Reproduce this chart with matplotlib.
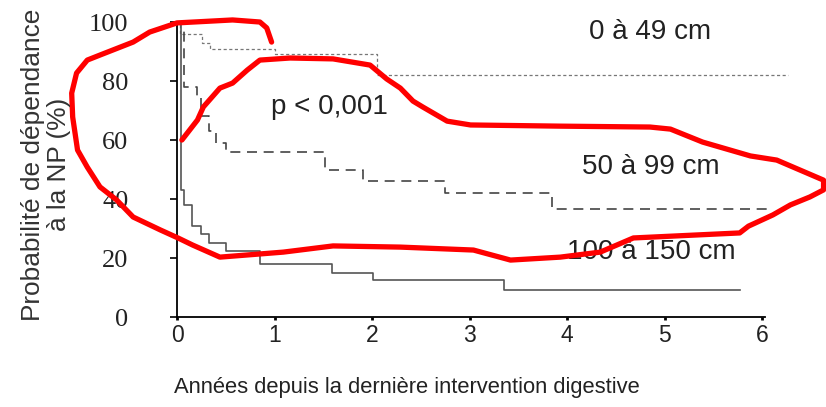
import numpy as np
import matplotlib
matplotlib.use("Agg")
import matplotlib.pyplot as plt

# Courbes de Kaplan-Meier (années, %)
t_0_49 = [0, 0.03, 0.26, 0.34, 1.0, 2.05, 6.27]
s_0_49 = [100, 96, 93, 91, 89, 82, 82]

t_50_99 = [0, 0.07, 0.2, 0.25, 0.33, 0.4, 0.5, 1.52, 1.91, 2.75, 3.85, 6.1]
s_50_99 = [100, 78, 75, 68, 63, 59, 56, 50, 46, 42, 36.5, 36.5]

t_100_150 = [0, 0.04, 0.07, 0.15, 0.25, 0.33, 0.5, 0.85, 1.59, 2.01, 3.35, 5.77]
s_100_150 = [100, 43, 38, 31, 28, 25, 22.5, 18, 15, 12.5, 9, 9]

x_ticks = [0, 1, 2, 3, 4, 5, 6]
y_ticks = [0, 20, 40, 60, 80, 100]

# Trait rouge dessiné à la main (en unités des axes)
rouge_x = [0.05, 0.21, 0.27, 0.44, 0.57, 0.72, 0.85, 1.16, 1.60, 1.98, 2.15, 2.29,
           2.42, 2.52, 2.77, 3.01, 3.93, 4.85, 5.06, 5.39, 5.88, 6.15, 6.63, 6.63,
           6.49, 6.29, 6.11, 5.86, 5.77, 4.68, 4.34, 3.93, 3.42, 3.04, 2.29, 1.60,
           1.09, 0.44, 0.16, 0.01, -0.17, -0.45, -0.62, -0.79, -0.92, -1.02, -1.07,
           -1.08, -1.03, -0.92, -0.79, -0.45, -0.28, 0.00, 0.57, 0.85, 0.92, 0.97]
rouge_y = [60.0, 66.8, 71.2, 77.6, 79.3, 83.7, 87.1, 87.8, 87.5, 85.4, 80.7, 77.6,
           73.2, 71.2, 66.4, 65.1, 64.7, 64.4, 63.7, 59.3, 54.6, 53.2, 46.4, 43.1,
           40.7, 38.0, 34.6, 30.8, 28.5, 26.8, 22.0, 20.3, 19.3, 22.7, 23.7, 24.1,
           22.0, 20.3, 24.4, 26.8, 29.5, 33.9, 39.7, 44.1, 50.8, 56.6, 67.8,
           75.9, 82.7, 87.1, 88.8, 93.2, 96.6, 99.7, 100.7, 100.0, 98.0, 93.2]

fig = plt.figure(figsize=(8.26, 4.07), dpi=100)
ax = fig.add_axes([0.2143, 0.2211, 0.7119, 0.7248])

ax.plot(t_0_49, s_0_49, drawstyle='steps-post', color='#777777', lw=0.9,
        linestyle=(0, (2.5, 2)), clip_on=False)
ax.plot(t_50_99, s_50_99, drawstyle='steps-post', color='#444444', lw=1.2,
        linestyle=(0, (6, 4)), clip_on=False)
ax.plot(t_100_150, s_100_150, drawstyle='steps-post', color='#555555', lw=1.2,
        clip_on=False)

ax.set_xlim(0, 6.03)
ax.set_ylim(0, 100)
ax.set_xticks(x_ticks)
ax.set_yticks(y_ticks)
ax.set_xticklabels([str(v) for v in x_ticks], fontsize=16.5, family='Liberation Sans',
                   color='#222222')
ax.set_yticklabels([str(v) for v in y_ticks], fontsize=19, family='Liberation Serif',
                   color='#222222')
ax.tick_params(axis='y', direction='out', length=5, width=1.2, pad=30)
ax.tick_params(axis='x', direction='out', length=2, width=2, pad=3)

for s in ['top', 'right']:
    ax.spines[s].set_visible(False)
for s in ['left', 'bottom']:
    ax.spines[s].set_linewidth(1.3)
    ax.spines[s].set_color('black')

txt = dict(fontsize=20, family='Liberation Sans', color='#222222', ha='center', va='center')
ax.text(4.85, 96.6, "0 à 49 cm", **txt)
ax.text(4.86, 50.8, "50 à 99 cm", **txt)
ax.text(4.86, 22.0, "100 à 150 cm", **txt)
ax.text(1.56, 71.2, "p < 0,001", **txt)

fig.text(0.4927, 0.049, "Années depuis la dernière intervention digestive",
         fontsize=15.8, family='Liberation Sans', color='#222222', ha='center', va='center')
fig.text(0.056, 0.595, "Probabilité de dépendance\nà la NP (%)", rotation=90,
         fontsize=18.9, family='Liberation Sans', color='#333333', ha='center',
         va='center', multialignment='center', linespacing=1.1)

ax.plot(rouge_x, rouge_y, color='red', lw=3.8, solid_capstyle='round',
        solid_joinstyle='round', clip_on=False, zorder=10)

fig.savefig("out.png", dpi=100)
